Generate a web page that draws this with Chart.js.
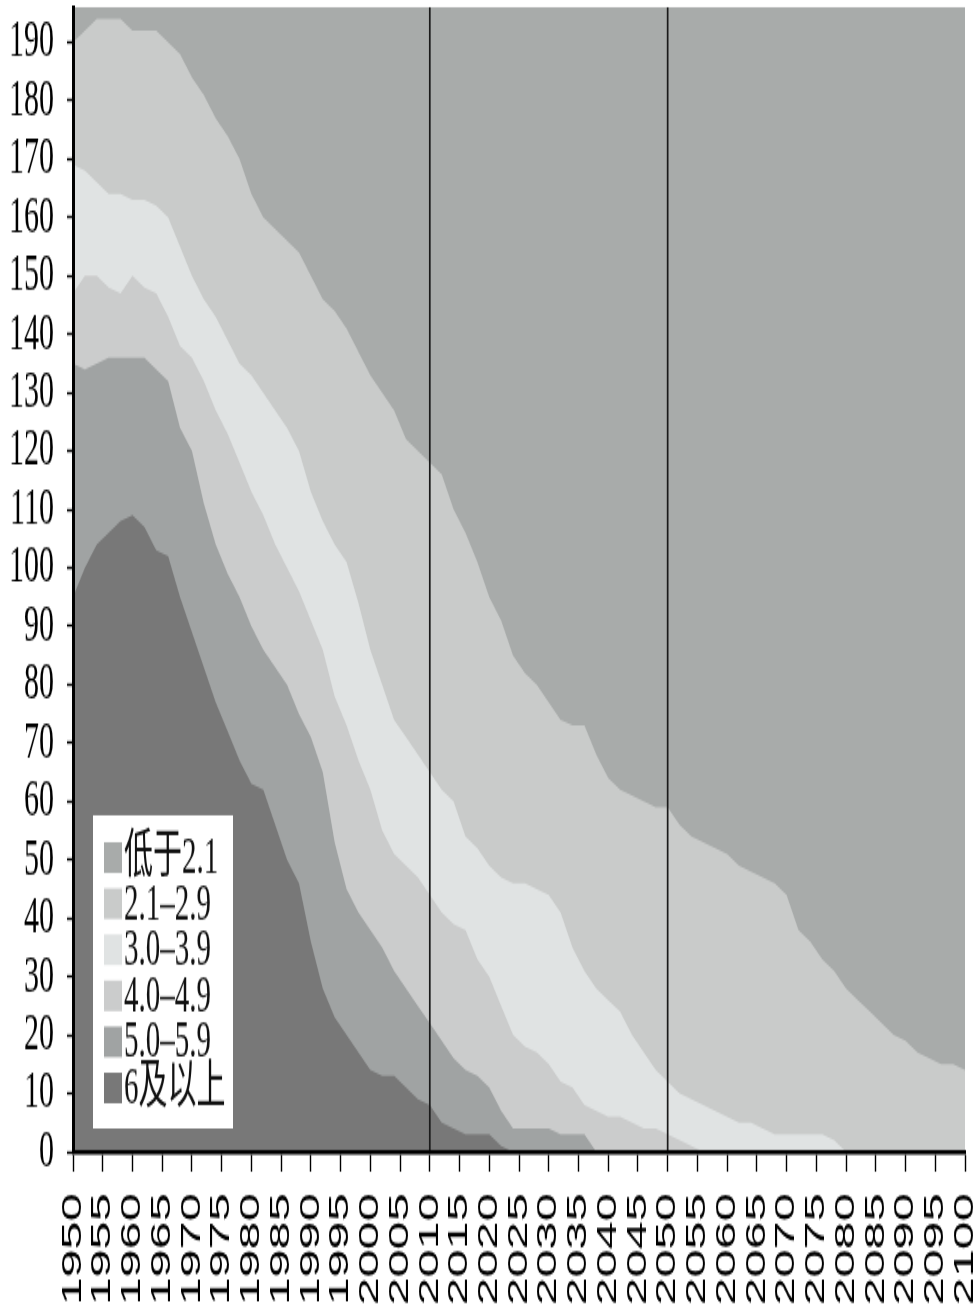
<!DOCTYPE html>
<html lang="zh">
<head>
<meta charset="utf-8">
<title>各生育率组别国家数量 1950–2100</title>
<script src="https://cdn.jsdelivr.net/npm/chart.js@4.4.1/dist/chart.umd.min.js"></script>
<style>
  html, body { margin: 0; padding: 0; background: #fff; }
  canvas { display: block; }
</style>
</head>
<body>
<canvas id="c" width="980" height="729" style="width:980px;height:1312px"></canvas>
<script>
// Years (every second year)
const years = [
  1950,1952,1954,1956,1958,1960,1962,1964,1966,1968,
  1970,1972,1974,1976,1978,1980,1982,1984,1986,1988,
  1990,1992,1994,1996,1998,2000,2002,2004,2006,2008,
  2010,2012,2014,2016,2018,2020,2022,2024,2026,2028,
  2030,2032,2034,2036,2038,2040,2042,2044,2046,2048,
  2050,2052,2054,2056,2058,2060,2062,2064,2066,2068,
  2070,2072,2074,2076,2078,2080,2082,2084,2086,2088,
  2090,2092,2094,2096,2098,2100
];

// Number of countries in each total-fertility band
const fert6plus = [
  95,100,104,106,108,109,107,103,102,95,
  89,83,77,72,67,63,62,56,50,46,
  36,28,23,20,17,14,13,13,11,9,
  8,5,4,3,3,3,1,0,0,0,
  0,0,0,0,0,0,0,0,0,0,
  0,0,0,0,0,0,0,0,0,0,
  0,0,0,0,0,0,0,0,0,0,
  0,0,0,0,0,0
];
const fert5to59 = [
  40,34,31,30,28,27,29,31,30,29,
  31,28,27,27,28,27,24,27,30,29,
  35,37,30,25,24,24,22,18,17,16,
  14,14,12,11,10,8,6,4,4,4,
  4,3,3,3,0,0,0,0,0,0,
  0,0,0,0,0,0,0,0,0,0,
  0,0,0,0,0,0,0,0,0,0,
  0,0,0,0,0,0
];
const fert4to49 = [
  12,16,15,12,11,14,12,13,11,14,
  16,21,23,24,23,23,23,21,20,21,
  20,21,25,28,26,24,20,20,21,22,
  22,22,23,24,20,19,18,16,14,13,
  11,9,8,5,7,6,6,5,4,4,
  3,2,1,0,0,0,0,0,0,0,
  0,0,0,0,0,0,0,0,0,0,
  0,0,0,0,0,0
];
const fert3to39 = [
  22,18,16,16,17,13,15,15,17,17,
  14,14,16,16,17,20,21,23,24,24,
  22,22,26,28,27,24,25,23,22,21,
  21,21,21,16,19,19,22,26,28,28,
  29,29,24,23,21,20,18,15,13,10,
  9,8,8,8,7,6,5,5,4,3,
  3,3,3,3,2,0,0,0,0,0,
  0,0,0,0,0,0
];
const fert21to29 = [
  21,24,28,30,30,29,29,30,30,33,
  34,35,34,35,35,31,30,31,32,34,
  37,38,40,40,43,47,50,53,51,52,
  53,54,50,52,49,46,44,39,36,35,
  33,33,38,42,40,38,38,41,43,45,
  47,46,45,45,45,45,44,43,43,43,
  41,35,33,30,29,28,26,24,22,20,
  19,17,16,15,15,14
];
const fertBelow21 = [
  6,4,2,2,2,4,4,4,6,8,
  12,15,19,22,26,32,36,38,40,42,
  46,50,52,55,59,63,66,69,74,76,
  78,80,86,90,95,101,105,111,114,116,
  119,122,123,123,128,132,134,135,136,137,
  137,140,142,143,144,145,147,148,149,150,
  152,158,160,163,165,168,170,172,174,176,
  177,179,180,181,181,182
];

// Stack order: bottom band first
const seriesLabels = ['6及以上', '5.0–5.9', '4.0–4.9', '3.0–3.9', '2.1–2.9', '低于2.1'];
const seriesValues = [fert6plus, fert5to59, fert4to49, fert3to39, fert21to29, fertBelow21];
const seriesColors = ['#787878', '#a0a3a3', '#cbcccc', '#e0e3e3', '#c9cbca', '#a8abaa'];

const yTicks = [0,10,20,30,40,50,60,70,80,90,100,110,120,130,140,150,160,170,180,190];
const xTicks = [1950,1955,1960,1965,1970,1975,1980,1985,1990,1995,2000,2005,2010,2015,2020,2025,
                2030,2035,2040,2045,2050,2055,2060,2065,2070,2075,2080,2085,2090,2095,2100];
const markerYears = [2010, 2050];
const yMax = 196;

// Vertical reference lines at the marker years
const markerLines = {
  id: 'markerLines',
  afterDatasetsDraw(chart) {
    const {ctx, chartArea, scales} = chart;
    ctx.save();
    ctx.strokeStyle = '#1a1a1a';
    ctx.lineWidth = 1.7;
    markerYears.forEach(yr => {
      const x = scales.x.getPixelForValue(yr);
      ctx.beginPath();
      ctx.moveTo(x, chartArea.top);
      ctx.lineTo(x, chartArea.bottom);
      ctx.stroke();
    });
    ctx.restore();
  }
};

// Boxed legend inside the plot, top band listed first
const boxLegend = {
  id: 'boxLegend',
  afterDraw(chart) {
    const {ctx, chartArea} = chart;
    const bx = chartArea.left + 20, by = 453, bw = 140, bh = 174;
    ctx.save();
    ctx.fillStyle = '#ffffff';
    ctx.fillRect(bx, by, bw, bh);
    ctx.font = '29px "Liberation Serif", "Noto Sans CJK SC", serif';
    ctx.textBaseline = 'alphabetic';
    ctx.textAlign = 'left';
    const ds = chart.data.datasets.slice().reverse();
    ds.forEach((d, i) => {
      const top = by + 15 + i * 25.6;
      ctx.fillStyle = d.backgroundColor;
      ctx.fillRect(bx + 11, top, 18, 17);
      ctx.fillStyle = '#111';
      ctx.fillText(d.label, bx + 31, top + 17);
    });
    ctx.restore();
  }
};

new Chart(document.getElementById('c'), {
  type: 'line',
  data: {
    datasets: seriesLabels.map((name, i) => ({
      label: name,
      data: seriesValues[i].map((v, j) => ({x: years[j], y: v})),
      backgroundColor: seriesColors[i],
      borderColor: seriesColors[i],
      borderWidth: 0,
      pointRadius: 0,
      fill: 'origin',
      tension: 0
    }))
  },
  options: {
    responsive: false,
    animation: false,
    devicePixelRatio: 1,
    events: [],
    layout: {padding: {top: 4, right: 15, left: 0, bottom: 0}},
    plugins: {legend: {display: false}, tooltip: {enabled: false}},
    scales: {
      x: {
        type: 'linear',
        min: 1950,
        max: 2100,
        afterBuildTicks: s => { s.ticks = xTicks.map(v => ({value: v})); },
        afterFit: s => { s.height = 89; s.paddingLeft = 0; s.paddingRight = 0; },
        grid: {drawOnChartArea: false, drawTicks: true, tickLength: 11, tickWidth: 1.4, tickColor: '#000', z: 1},
        border: {display: true, color: '#000', width: 2.6, z: 1},
        ticks: {
          autoSkip: false,
          minRotation: 90,
          maxRotation: 90,
          padding: 12,
          color: '#000',
          font: {family: "'Liberation Sans', Arial, sans-serif", size: 28},
          callback: v => String(v)
        }
      },
      y: {
        stacked: true,
        min: 0,
        max: yMax,
        afterBuildTicks: s => { s.ticks = yTicks.map(v => ({value: v})); },
        afterFit: s => { s.width = 73; s.paddingTop = 0; s.paddingBottom = 0; },
        grid: {drawOnChartArea: false, drawTicks: true, tickLength: 6, tickWidth: 1.4, tickColor: '#000', z: 1},
        border: {display: true, color: '#000', width: 3, z: 1},
        ticks: {
          autoSkip: false,
          padding: 13,
          color: '#000',
          font: {family: "'Liberation Serif', 'Times New Roman', serif", size: 30},
          callback: v => String(v)
        }
      }
    }
  },
  plugins: [markerLines, boxLegend]
});
</script>
</body>
</html>
